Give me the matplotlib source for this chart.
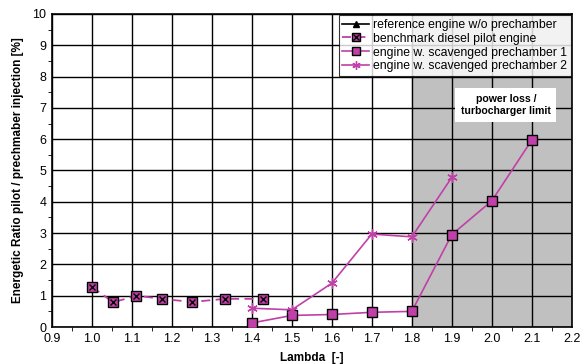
import numpy as np
import matplotlib
matplotlib.use("Agg")
import matplotlib.pyplot as plt

plt.rcParams['font.family'] = ['Liberation Sans', 'DejaVu Sans']

# data
bench_x = [1.0, 1.053, 1.111, 1.176, 1.25, 1.333, 1.429]
bench_y = [1.28, 0.79, 1.0, 0.9, 0.8, 0.9, 0.9]

pc1_x = [1.4, 1.5, 1.6, 1.7, 1.8, 1.9, 2.0, 2.1]
pc1_y = [0.13, 0.37, 0.4, 0.47, 0.5, 2.95, 4.03, 5.97]

pc2_x = [1.4, 1.5, 1.6, 1.7, 1.8, 1.9]
pc2_y = [0.6, 0.55, 1.4, 2.97, 2.88, 4.78]

mag = '#c040a8'

fig = plt.figure(figsize=(5.87, 3.64), dpi=100)
ax = fig.add_axes([0.0886, 0.1016, 0.8854, 0.86])

ax.axvspan(1.8, 2.2, color='#c0c0c0', zorder=0)

h_ref, = ax.plot([], [], color='black', marker='^', ms=6, lw=1.2)
h_b, = ax.plot(bench_x, bench_y, color=mag, ls=(0, (5, 3)), lw=1.3, marker='s', ms=7,
               mfc=mag, mec='black', mew=1, zorder=3)
h_bx, = ax.plot(bench_x, bench_y, ls='none', marker='x', ms=5, mec='black', mew=1, zorder=4)
h_1, = ax.plot(pc1_x, pc1_y, color=mag, lw=1.2, marker='s', ms=7, mfc=mag, mec='black',
               mew=1, zorder=3)
h_2, = ax.plot(pc2_x, pc2_y, color=mag, lw=1.2, marker=(6, 2, 0), ms=7.5, mec=mag,
               mew=1.0, zorder=3)

ax.set_xlim(0.9, 2.2)
ax.set_ylim(0, 10)
ax.set_xticks(np.arange(0.9, 2.21, 0.1))
ax.set_xticklabels([f'{v:.1f}' for v in np.arange(0.9, 2.21, 0.1)])
ax.set_yticks(range(0, 11))
ax.set_xticks(np.arange(0.95, 2.2, 0.1), minor=True)
ax.set_yticks(np.arange(0.5, 10, 1), minor=True)
ax.grid(True, which='major', color='black', lw=1.0, zorder=1)
ax.set_axisbelow(True)
ax.tick_params(labelsize=9, length=0)
ax.tick_params(axis='x', pad=4)
ax.tick_params(axis='y', pad=4)
ax.tick_params(which='minor', length=3, direction='out')

for s in ax.spines.values():
    s.set_linewidth(1.2)

ax.set_xlabel('Lambda  [-]', fontsize=8.5, fontweight='bold', labelpad=5)
ax.set_ylabel('Energetic Ratio pilot / prechmaber injection [%]', fontsize=8.5,
              fontweight='bold', labelpad=6)

ax.text(2.035, 7.09, 'power loss /\nturbocharger limit', ha='center', va='center',
        fontsize=7.6, fontweight='bold', linespacing=1.3,
        bbox=dict(facecolor='white', edgecolor='none', pad=4), zorder=5)

leg = ax.legend([h_ref, (h_b, h_bx), h_1, h_2],
                ['reference engine w/o prechamber', 'benchmark diesel pilot engine',
                 'engine w. scavenged prechamber 1', 'engine w. scavenged prechamber 2'],
                loc='upper right', fontsize=8.8, frameon=True, fancybox=False,
                edgecolor='black', borderaxespad=0.1, handlelength=2.2,
                handletextpad=0.3, labelspacing=0.15, borderpad=0.3, markerscale=0.8)
leg.get_frame().set_linewidth(0.8)
leg.set_zorder(6)

fig.savefig('out.png', dpi=100)
